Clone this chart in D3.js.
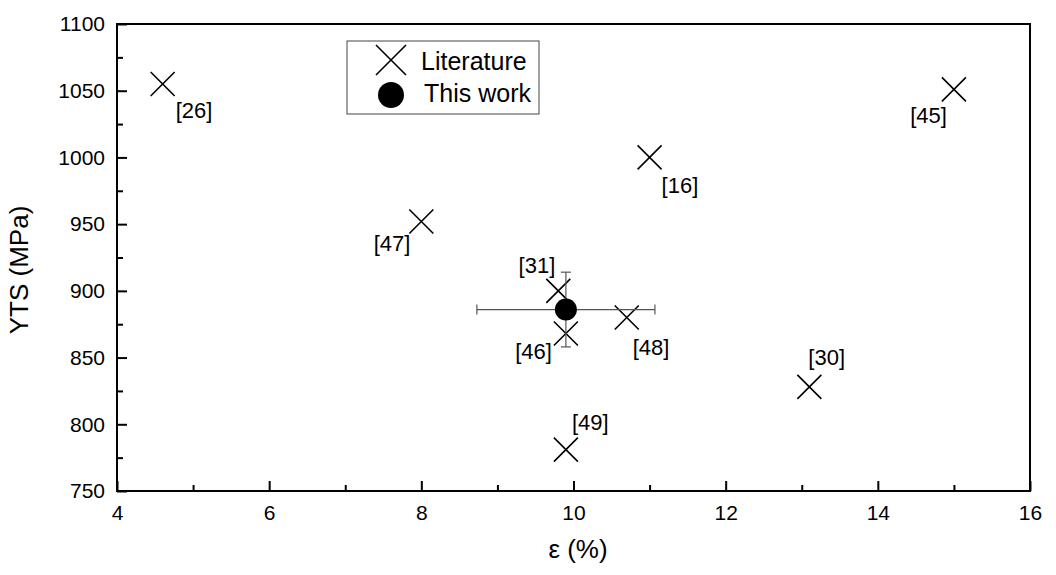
<!DOCTYPE html>
<html>
<head>
<meta charset="utf-8">
<script src="https://cdn.jsdelivr.net/npm/d3@7"></script>
<style>
  body { margin: 0; background: #fff; }
  text { font-family: "Liberation Sans", Arial, sans-serif; fill: #000; }
</style>
</head>
<body>
<div id="chart"></div>
<script>
// Datos de la literatura
const refLabels = ["[26]", "[45]", "[16]", "[47]", "[31]", "[46]", "[48]", "[49]", "[30]"]
const refStrain = [4.6, 15.0, 11.0, 8.0, 9.8, 9.9, 10.7, 9.9, 13.1]
const refYTS = [1055, 1051, 1000, 952, 900, 868, 880, 781, 828]

// Este trabajo
const workStrain = [9.9]
const workYTS = [886]
const workStrainErr = [1.17]
const workYTSErr = [28]

// Ticks
const xTicks = [4, 6, 8, 10, 12, 14, 16]
const yTicks = [750, 800, 850, 900, 950, 1000, 1050, 1100]

// Posición de las etiquetas respecto al marcador (anchor, dx, dy)
const labelPos = [
  ["start", 13, 34], ["end", -7, 34], ["start", 12, 36], ["end", -11, 30],
  ["end", -3, -18], ["end", -14, 25], ["start", 6, 37], ["start", 6, -20], ["start", -1, -22]
]

const W = 1056, H = 575
const margin = {top: 24, right: 26, bottom: 84, left: 117}
const width = W - margin.left - margin.right
const height = H - margin.top - margin.bottom

const svg = d3.select("#chart").append("svg")
    .attr("width", W)
    .attr("height", H)
  .append("g")
    .attr("transform", `translate(${margin.left},${margin.top})`)

const x = d3.scaleLinear().domain([4, 16]).range([0, width])
const y = d3.scaleLinear().domain([750, 1100]).range([height, 0])

// Ejes menores
svg.append("g")
  .attr("transform", `translate(0,${height})`)
  .call(d3.axisBottom(x).tickValues(d3.range(5, 16, 2)).tickSize(-6).tickFormat(""))
  .call(g => g.select(".domain").remove())
svg.append("g")
  .call(d3.axisLeft(y).tickValues(d3.range(775, 1100, 50)).tickSize(-6).tickFormat(""))
  .call(g => g.select(".domain").remove())

// Ejes mayores
svg.append("g")
  .attr("transform", `translate(0,${height})`)
  .call(d3.axisBottom(x).tickValues(xTicks).tickSize(-10).tickPadding(14).tickFormat(d3.format("d")))
  .call(g => g.select(".domain").remove())
  .call(g => g.selectAll("text").style("font-size", "21px").style("font-family", "Liberation Sans, Arial"))
svg.append("g")
  .call(d3.axisLeft(y).tickValues(yTicks).tickSize(-10).tickPadding(12).tickFormat(d3.format("d")))
  .call(g => g.select(".domain").remove())
  .call(g => g.selectAll("text").style("font-size", "21px").style("font-family", "Liberation Sans, Arial"))

svg.selectAll(".tick line").attr("stroke", "#000").attr("stroke-width", 2)

// Marco
svg.append("rect")
  .attr("width", width)
  .attr("height", height)
  .attr("fill", "none")
  .attr("stroke", "#000")
  .attr("stroke-width", 2)

// Títulos de ejes
svg.append("text")
  .attr("transform", `translate(${-89},${246}) rotate(-90)`)
  .attr("text-anchor", "middle")
  .style("font-size", "26px")
  .text("YTS (MPa)")

svg.append("text")
  .attr("x", 461)
  .attr("y", 534)
  .attr("text-anchor", "middle")
  .style("font-size", "26px")
  .text("ε (%)")

// Cruz
const cross = (g, cx, cy, s) => {
  g.append("path")
    .attr("d", `M${cx - s},${cy - s}L${cx + s},${cy + s}M${cx - s},${cy + s}L${cx + s},${cy - s}`)
    .attr("stroke", "#000")
    .attr("stroke-width", 1.6)
    .attr("fill", "none")
}

const refs = refLabels.map((l, i) => ({label: l, e: refStrain[i], s: refYTS[i], pos: labelPos[i]}))

refs.forEach(d => cross(svg, x(d.e), y(d.s), 12))

svg.selectAll(".reflabel")
  .data(refs)
  .join("text")
    .attr("class", "reflabel")
    .attr("x", d => x(d.e) + d.pos[1])
    .attr("y", d => y(d.s) + d.pos[2])
    .attr("text-anchor", d => d.pos[0])
    .style("font-size", "22px")
    .text(d => d.label)

// Este trabajo con barras de error
const work = workStrain.map((e, i) => ({e, s: workYTS[i], ee: workStrainErr[i], se: workYTSErr[i]}))
const eb = svg.append("g").attr("stroke", "#555").attr("stroke-width", 1.2)
work.forEach(d => {
  eb.append("line").attr("x1", x(d.e - d.ee)).attr("x2", x(d.e + d.ee)).attr("y1", y(d.s)).attr("y2", y(d.s))
  eb.append("line").attr("x1", x(d.e)).attr("x2", x(d.e)).attr("y1", y(d.s - d.se)).attr("y2", y(d.s + d.se))
  eb.append("line").attr("x1", x(d.e - d.ee)).attr("x2", x(d.e - d.ee)).attr("y1", y(d.s) - 5).attr("y2", y(d.s) + 5)
  eb.append("line").attr("x1", x(d.e + d.ee)).attr("x2", x(d.e + d.ee)).attr("y1", y(d.s) - 5).attr("y2", y(d.s) + 5)
  eb.append("line").attr("x1", x(d.e) - 5).attr("x2", x(d.e) + 5).attr("y1", y(d.s - d.se)).attr("y2", y(d.s - d.se))
  eb.append("line").attr("x1", x(d.e) - 5).attr("x2", x(d.e) + 5).attr("y1", y(d.s + d.se)).attr("y2", y(d.s + d.se))
})
svg.selectAll(".work")
  .data(work)
  .join("circle")
    .attr("class", "work")
    .attr("cx", d => x(d.e))
    .attr("cy", d => y(d.s))
    .attr("r", 11)
    .attr("fill", "#000")

// Leyenda
const leg = svg.append("g").attr("transform", "translate(230,17)")
leg.append("rect")
  .attr("width", 192)
  .attr("height", 73)
  .attr("fill", "#fff")
  .attr("stroke", "#444")
  .attr("stroke-width", 1)
cross(leg, 44, 19, 15)
leg.append("circle").attr("cx", 44).attr("cy", 54).attr("r", 13).attr("fill", "#000")
leg.append("text").attr("x", 74).attr("y", 29).style("font-size", "25px").text("Literature")
leg.append("text").attr("x", 77).attr("y", 61).style("font-size", "25px").text("This work")
</script>
</body>
</html>
